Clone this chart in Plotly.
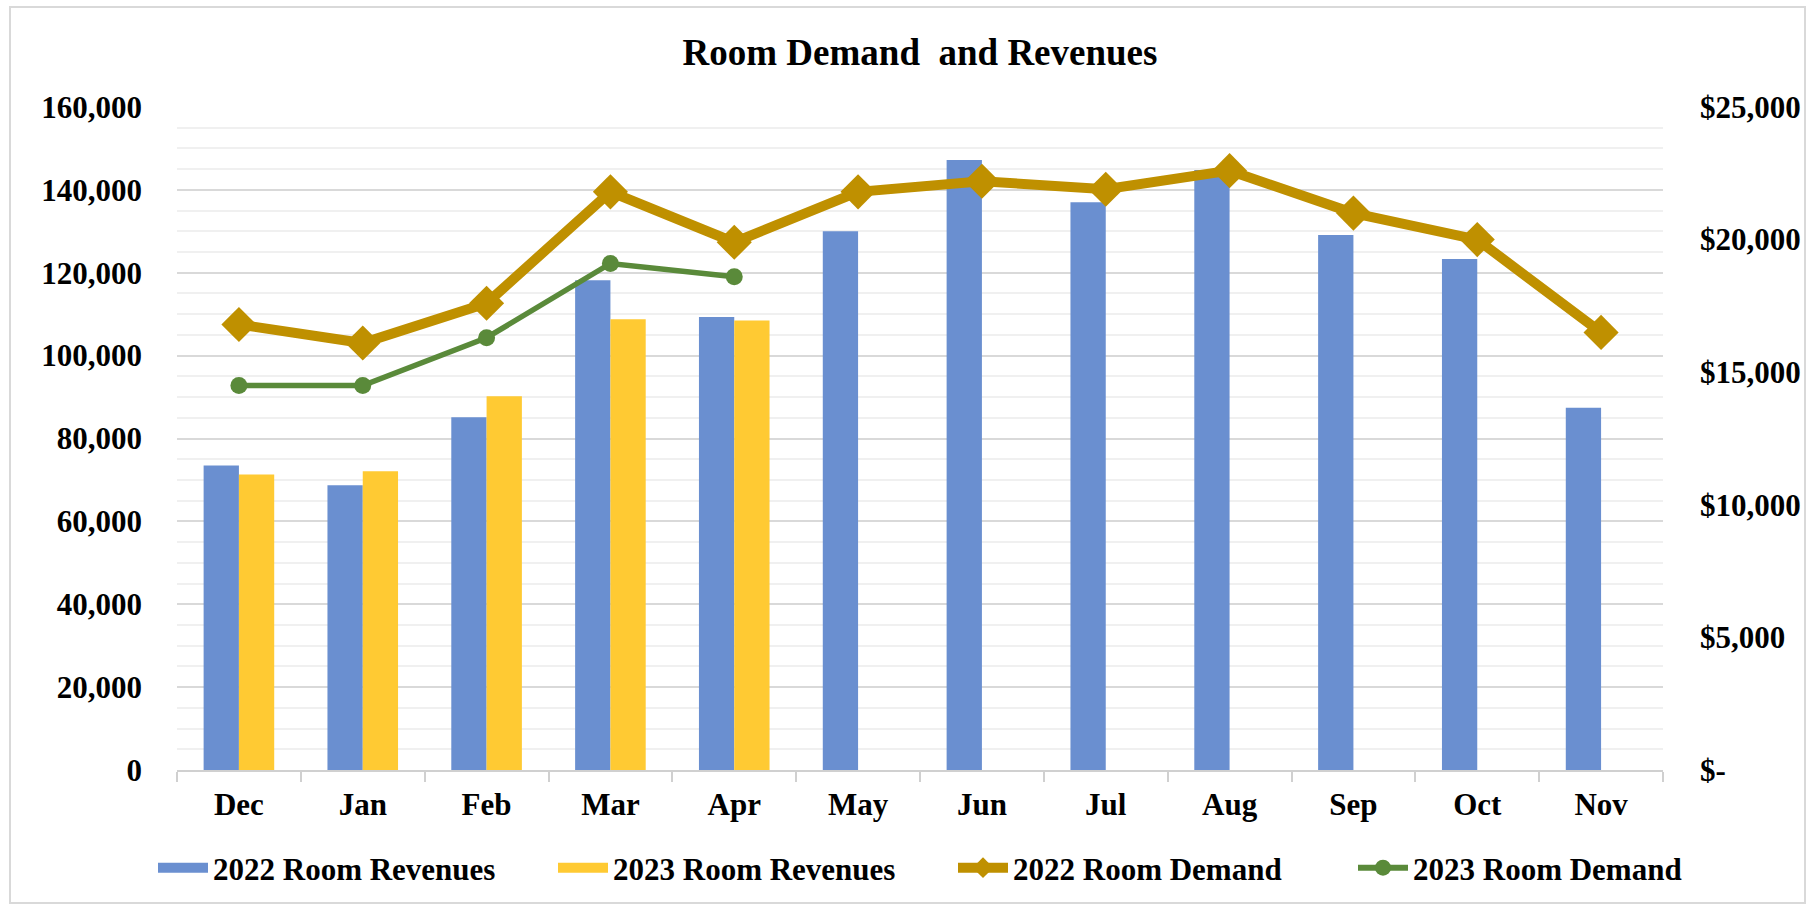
import plotly.graph_objects as go

months = ["Dec", "Jan", "Feb", "Mar", "Apr", "May", "Jun", "Jul", "Aug", "Sep", "Oct", "Nov"]
rev_2022 = [73500, 68700, 85100, 118200, 109300, 130000, 147200, 137000, 144800, 129100, 123300, 87400]
rev_2023 = [71300, 72100, 90200, 108800, 108500, None, None, None, None, None, None, None]
dem_2022 = [16800, 16100, 17600, 21800, 19900, 21800, 22200, 21900, 22600, 21000, 20000, 16500]
dem_2023 = [14500, 14500, 16300, 19100, 18600, None, None, None, None, None, None, None]

left_ticks = list(range(0, 160001, 20000))
left_labels = [f"{v:,}" for v in left_ticks]
right_ticks = [0, 5000, 10000, 15000, 20000, 25000]
right_labels = ["$-", "$5,000", "$10,000", "$15,000", "$20,000", "$25,000"]

FONT = "Liberation Serif"
W, H = 1807, 907
L, R, T, B = 177, 144, 107, 137
BLUE, YELLOW, GOLD, GREEN = "#6A8FD0", "#FFCA33", "#BF9000", "#5A8A3A"

fig = go.Figure()
fig.add_trace(go.Bar(x=months, y=rev_2022, name="2022 Room Revenues", showlegend=False,
                     marker=dict(color=BLUE, line=dict(width=0))))
fig.add_trace(go.Bar(x=months, y=rev_2023, name="2023 Room Revenues", showlegend=False,
                     marker=dict(color=YELLOW, line=dict(width=0))))
fig.add_trace(go.Scatter(x=months, y=dem_2022, name="2022 Room Demand", yaxis="y2",
                         mode="lines+markers", showlegend=False,
                         line=dict(color=GOLD, width=10),
                         marker=dict(symbol="diamond", size=27, color=GOLD)))
fig.add_trace(go.Scatter(x=months, y=dem_2023, name="2023 Room Demand", yaxis="y2",
                         mode="lines+markers", showlegend=False,
                         line=dict(color=GREEN, width=5.5),
                         marker=dict(symbol="circle", size=17, color=GREEN)))

# legend entries
fig.add_trace(go.Scatter(x=[None], y=[None], name="<b>2022 Room Revenues</b>", mode="lines",
                         line=dict(color=BLUE, width=16)))
fig.add_trace(go.Scatter(x=[None], y=[None], name="<b>2023 Room Revenues</b>", mode="lines",
                         line=dict(color=YELLOW, width=16)))
fig.add_trace(go.Scatter(x=[None], y=[None], name="<b>2022 Room Demand</b>", mode="lines+markers",
                         line=dict(color=GOLD, width=10),
                         marker=dict(symbol="diamond", size=20, color=GOLD)))
fig.add_trace(go.Scatter(x=[None], y=[None], name="<b>2023 Room Demand</b>", mode="lines+markers",
                         line=dict(color=GREEN, width=6),
                         marker=dict(symbol="circle", size=16, color=GREEN)))

pw = W - L - R
ph = H - T - B

fig.update_layout(
    width=W, height=H,
    margin=dict(l=L, r=R, t=T, b=B, autoexpand=False),
    paper_bgcolor="white", plot_bgcolor="white",
    font=dict(family=FONT, size=31, color="black"),
    title=dict(text="<b>Room Demand  and Revenues</b>", x=(920 - L) / pw, xref="paper",
               xanchor="center",
               y=1 - 52 / H, yanchor="middle", font=dict(family=FONT, size=37)),
    barmode="group", bargap=0.43, bargroupgap=0,
    showlegend=True,
    legend=dict(orientation="h", xref="paper", x=(153 - L) / pw, xanchor="left",
                yref="paper", y=(770 - 868) / ph, yanchor="middle",
                font=dict(family=FONT, size=31),
                traceorder="normal", entrywidth=335, entrywidthmode="pixels",
                itemwidth=50),
    xaxis=dict(type="category", range=[-0.5, 11.5], showline=True, linecolor="#d0d0d0",
               linewidth=2, ticks="outside", tickson="boundaries", ticklen=10,
               tickcolor="#d0d0d0", tickwidth=2, showgrid=False,
               tickfont=dict(family=FONT, size=31),
               tickvals=months, ticktext=["<b>" + m + "</b>" for m in months],
               ticklabelstandoff=6),
    yaxis=dict(range=[0, 160000], tickvals=left_ticks,
               ticktext=["<b>" + t + "</b>" for t in left_labels],
               showgrid=True, gridcolor="#d9d9d9", gridwidth=2,
               minor=dict(dtick=5000, showgrid=True, gridcolor="#f0f0f0", gridwidth=2),
               zeroline=False, showline=False, ticks="", ticklabelstandoff=34,
               tickfont=dict(family=FONT, size=31)),
    yaxis2=dict(range=[0, 25000], overlaying="y", side="right",
                tickvals=right_ticks, ticktext=["<b>" + t + "</b>" for t in right_labels],
                showgrid=False, zeroline=False, showline=False, ticks="",
                ticklabelstandoff=36, tickfont=dict(family=FONT, size=31)),
)

fig.add_shape(type="rect", xref="paper", yref="paper",
              x0=(10 - L) / pw, x1=(1805 - L) / pw,
              y0=(770 - 903) / ph, y1=(770 - 7) / ph,
              line=dict(color="#d9d9d9", width=2), fillcolor="rgba(0,0,0,0)", layer="below")

fig.write_html("out.html", config={"displayModeBar": False},
               post_script="document.body.style.margin='0';")
